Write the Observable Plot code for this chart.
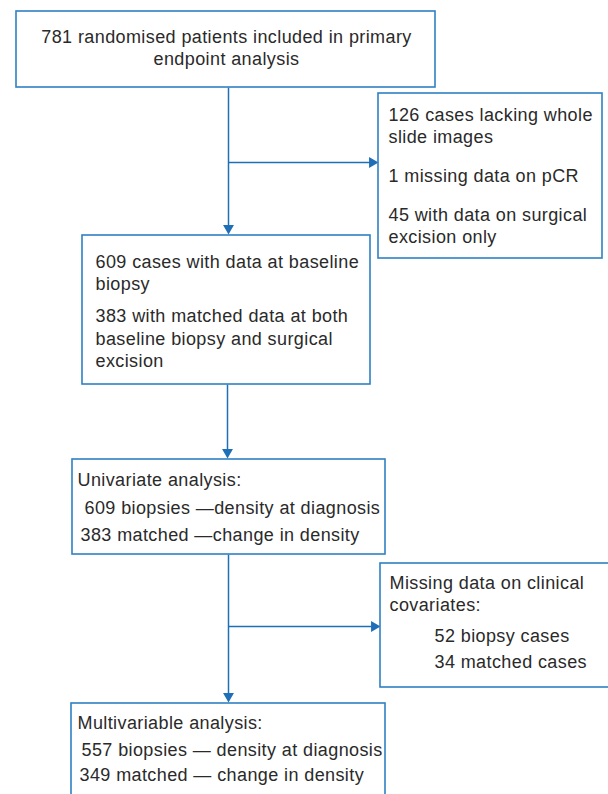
<!DOCTYPE html>
<html>
<head>
<meta charset="utf-8">
<script src="https://cdn.jsdelivr.net/npm/d3@7"></script>
<script src="https://cdn.jsdelivr.net/npm/@observablehq/plot@0.6"></script>
<style>
  html, body { margin: 0; padding: 0; background: #fff; overflow: hidden; }
  #chart { width: 608px; height: 794px; }
  svg { font-family: "Liberation Sans", Arial, sans-serif; }
  svg text { letter-spacing: 0.4px; }
</style>
</head>
<body>
<div id="chart"></div>
<script>
// ---- Flowchart content (values) ----
const stepNames = ["included", "excluded1", "baseline", "univariate", "excluded2", "multivariable"];
const includedText = ["781 randomised patients included in primary", "endpoint analysis"];
const excluded1Text = ["126 cases lacking whole", "slide images", "1 missing data on pCR", "45 with data on surgical", "excision only"];
const baselineText = ["609 cases with data at baseline", "biopsy", "383 with matched data at both", "baseline biopsy and surgical", "excision"];
const univariateText = ["Univariate analysis:", "609 biopsies \u2014density at diagnosis", "383 matched \u2014change in density"];
const excluded2Text = ["Missing data on clinical", "covariates:", "52 biopsy cases", "34 matched cases"];
const multivariableText = ["Multivariable analysis:", "557 biopsies \u2014 density at diagnosis", "349 matched \u2014 change in density"];
const counts = [781, 609, 383, 557, 349];

// ---- Layout (positions in pixel space) ----
const boxes = [
  {id: "included",      x1: 16,  x2: 435, y1: 11,  y2: 87},
  {id: "excluded1",     x1: 378, x2: 602, y1: 93,  y2: 258},
  {id: "baseline",      x1: 82,  x2: 370, y1: 235, y2: 384},
  {id: "univariate",    x1: 72,  x2: 385, y1: 459, y2: 554},
  {id: "excluded2",     x1: 380, x2: 616, y1: 563, y2: 687},
  {id: "multivariable", x1: 71,  x2: 385, y1: 703, y2: 800}
];
const textLayout = {
  included:      {anchor: "middle", xs: [226, 226], ys: [37, 59]},
  excluded1:     {anchor: "start", xs: [388, 388, 388, 388, 388], ys: [115, 137, 176, 215, 237]},
  baseline:      {anchor: "start", xs: [95, 95, 95, 95, 95], ys: [262, 284, 316, 339, 361]},
  univariate:    {anchor: "start", xs: [77, 84, 80], ys: [480, 508, 535]},
  excluded2:     {anchor: "start", xs: [389, 389, 434, 434], ys: [583, 605, 636, 662]},
  multivariable: {anchor: "start", xs: [77, 81, 79], ys: [723, 750, 775]}
};
const textsById = {
  included: includedText, excluded1: excluded1Text, baseline: baselineText,
  univariate: univariateText, excluded2: excluded2Text, multivariable: multivariableText
};
const textRows = stepNames.flatMap(id => textsById[id].map((t, i) => ({
  id, text: t, x: textLayout[id].xs[i], y: textLayout[id].ys[i], anchor: textLayout[id].anchor
})));

// arrows: from (x1,y1) to tip (x2,y2)
const arrows = [
  {x1: 228, y1: 87,  x2: 228, y2: 234, dir: "down"},
  {x1: 228, y1: 162, x2: 378, y2: 162, dir: "right"},
  {x1: 227, y1: 384, x2: 227, y2: 458, dir: "down"},
  {x1: 228, y1: 554, x2: 228, y2: 702, dir: "down"},
  {x1: 228, y1: 626, x2: 380, y2: 626, dir: "right"}
];
const headOffset = 6.3;
const heads = arrows.map(a => ({
  x: a.dir === "right" ? a.x2 - headOffset : a.x2,
  y: a.dir === "down" ? a.y2 - headOffset : a.y2,
  rot: a.dir === "down" ? 180 : 90
}));
const shafts = arrows.map(a => ({
  x1: a.x1, y1: a.y1,
  x2: a.dir === "right" ? a.x2 - 8 : a.x2,
  y2: a.dir === "down" ? a.y2 - 8 : a.y2
}));

const boxColor = "#2f80c3";
const arrowColor = "#1f6fb6";
const textColor = "#2a2a2a";

const chart = Plot.plot({
  width: 608,
  height: 794,
  margin: 0,
  x: {domain: [0, 608], range: [0, 608], axis: null},
  y: {domain: [0, 794], range: [0, 794], axis: null},
  marks: [
    Plot.link(shafts, {x1: "x1", y1: "y1", x2: "x2", y2: "y2", stroke: arrowColor, strokeWidth: 1.5}),
    Plot.dot(heads, {x: "x", y: "y", rotate: "rot", symbol: "triangle2", r: 5.2, fill: arrowColor, stroke: "none"}),
    Plot.rect(boxes, {x1: "x1", x2: "x2", y1: "y1", y2: "y2", fill: "white", stroke: boxColor, strokeWidth: 1.6}),
    Plot.text(textRows.filter(d => d.anchor === "middle"), {x: "x", y: "y", text: "text", textAnchor: "middle", fontSize: 18, fill: textColor}),
    Plot.text(textRows.filter(d => d.anchor === "start"), {x: "x", y: "y", text: "text", textAnchor: "start", fontSize: 18, fill: textColor})
  ]
});
document.getElementById("chart").appendChild(chart);
</script>
</body>
</html>
